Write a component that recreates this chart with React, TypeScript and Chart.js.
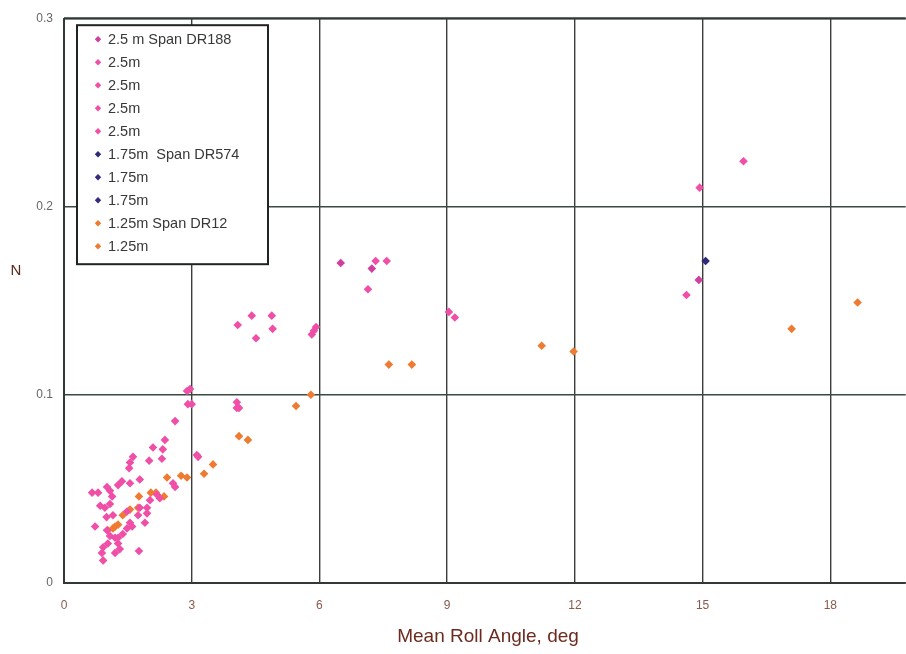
import React, { useEffect, useRef } from "react";
import { Chart, registerables } from "chart.js";

Chart.register(...registerables);

const xTickValues = [0, 3, 6, 9, 12, 15, 18];
const yTickValues = [0, 0.1, 0.2, 0.3];

const seriesLabels = [
  "2.5 m Span DR188",
  "2.5m",
  "2.5m",
  "2.5m",
  "2.5m",
  "1.75m  Span DR574",
  "1.75m",
  "1.75m",
  "1.25m Span DR12",
  "1.25m",
];

const seriesColors = [
  "#cf3f9f",
  "#ef4fa7",
  "#ef4fa7",
  "#ef4fa7",
  "#ef4fa7",
  "#2e2a7a",
  "#352a7c",
  "#352a7c",
  "#ee7b31",
  "#ee7b31",
];

const pinkDR188: [number, number][] = [
  [6.5, 0.17], [7.23, 0.167], [14.91, 0.161],
];
const pink2: [number, number][] = [
  [14.93, 0.21], [15.96, 0.224], [14.62, 0.153], [7.32, 0.171], [7.58, 0.171],
  [7.14, 0.156], [9.04, 0.144], [9.18, 0.141],
];
const pink3: [number, number][] = [
  [4.08, 0.137], [4.41, 0.142], [4.88, 0.142], [4.9, 0.135], [4.51, 0.13],
  [5.82, 0.132], [5.92, 0.136], [5.87, 0.134], [4.06, 0.096], [4.06, 0.093], [4.11, 0.093],
];
const pink4: [number, number][] = [
  [2.89, 0.102], [2.96, 0.103], [2.91, 0.095], [3.0, 0.095], [2.61, 0.086],
  [3.12, 0.068], [3.15, 0.067], [2.37, 0.076], [2.09, 0.072], [2.32, 0.071],
  [2.0, 0.065], [2.3, 0.066], [1.62, 0.067], [1.55, 0.064], [1.53, 0.061],
  [1.78, 0.055], [1.36, 0.054], [1.55, 0.053], [1.27, 0.052], [1.01, 0.051],
  [1.08, 0.049], [0.66, 0.048], [0.8, 0.048], [2.56, 0.053], [2.61, 0.051],
];
const pink5: [number, number][] = [
  [1.13, 0.046], [0.85, 0.041], [0.96, 0.04], [1.08, 0.042], [1.15, 0.036],
  [1.0, 0.035], [0.73, 0.03], [1.48, 0.038], [1.74, 0.036], [1.95, 0.04],
  [1.95, 0.037], [1.9, 0.032], [2.25, 0.045], [2.18, 0.047], [2.02, 0.044],
  [1.78, 0.04], [1.01, 0.028], [1.08, 0.025], [1.2, 0.024], [1.03, 0.021],
  [0.92, 0.019], [0.89, 0.016], [0.92, 0.012], [1.31, 0.018], [1.27, 0.024],
  [1.48, 0.029], [1.38, 0.026], [1.55, 0.032], [1.76, 0.017], [1.27, 0.021],
  [1.2, 0.016], [1.6, 0.03],
];
const navyDR574: [number, number][] = [[15.07, 0.171]];
const navy2: [number, number][] = [];
const navy3: [number, number][] = [];
const orangeDR12: [number, number][] = [
  [4.11, 0.078], [4.32, 0.076], [5.45, 0.094], [5.8, 0.1], [7.63, 0.116],
  [8.17, 0.116], [11.22, 0.126], [11.97, 0.123], [17.09, 0.135], [18.64, 0.149],
];
const orange2: [number, number][] = [
  [1.03, 0.028], [1.2, 0.03], [1.15, 0.029], [1.27, 0.031], [1.38, 0.036],
  [1.55, 0.039], [1.74, 0.04], [1.76, 0.046], [2.04, 0.048], [2.16, 0.048],
  [2.35, 0.046], [2.42, 0.056], [2.75, 0.057], [2.89, 0.056], [3.29, 0.058], [3.5, 0.063],
];

const seriesData = [
  pinkDR188, pink2, pink3, pink4, pink5, navyDR574, navy2, navy3, orangeDR12, orange2,
];

const xTitle = "Mean Roll Angle, deg";
const yTitle = "N";

const overlayPlugin = {
  id: "overlay",
  afterDraw(chart: any) {
    const ctx: CanvasRenderingContext2D = chart.ctx;
    const { left, top, bottom, right } = chart.chartArea;
    ctx.save();
    // axis lines
    ctx.strokeStyle = "#2f3a34";
    ctx.lineWidth = 2;
    ctx.beginPath();
    ctx.moveTo(left, top);
    ctx.lineTo(left, bottom);
    ctx.lineTo(right, bottom);
    ctx.stroke();
    ctx.beginPath();
    ctx.moveTo(left, top);
    ctx.lineTo(right, top);
    ctx.stroke();

    // legend box
    const bx = left + 13;
    const by = top + 7;
    const bw = 191;
    const bh = 239;
    ctx.fillStyle = "#ffffff";
    ctx.fillRect(bx, by, bw, bh);
    ctx.strokeStyle = "#1e2420";
    ctx.lineWidth = 2;
    ctx.strokeRect(bx, by, bw, bh);
    ctx.font = "14.5px 'Liberation Sans', Arial, sans-serif";
    ctx.textBaseline = "middle";
    ctx.textAlign = "left";
    chart.data.datasets.forEach((ds: any, i: number) => {
      const cy = by + 14 + 23 * i;
      const cx = bx + 21;
      const r = 3.2;
      ctx.fillStyle = ds.backgroundColor;
      ctx.beginPath();
      ctx.moveTo(cx, cy - r);
      ctx.lineTo(cx + r, cy);
      ctx.lineTo(cx, cy + r);
      ctx.lineTo(cx - r, cy);
      ctx.closePath();
      ctx.fill();
      ctx.fillStyle = "#383838";
      ctx.fillText(ds.label, cx + 10, cy + 1);
    });

    // y title
    ctx.fillStyle = "#5a2a1c";
    ctx.font = "15px 'Liberation Sans', Arial, sans-serif";
    ctx.textAlign = "center";
    ctx.fillText(yTitle, 16, 271);

    // x title
    ctx.fillStyle = "#6b2b1f";
    ctx.font = "19px 'Liberation Sans', Arial, sans-serif";
    ctx.fillText(xTitle, 488, 637);
    ctx.restore();
  },
};

export default function App() {
  const ref = useRef<HTMLCanvasElement | null>(null);
  useEffect(() => {
    if (!ref.current) return;
    const chart = new Chart(ref.current, {
      type: "scatter",
      data: {
        datasets: seriesData.map((pts, i) => ({
          label: seriesLabels[i],
          data: pts.map(([x, y]) => ({ x, y })),
          backgroundColor: seriesColors[i],
          borderColor: seriesColors[i],
          borderWidth: 0,
          pointStyle: "rectRot",
          pointRadius: 4.3,
          pointHoverRadius: 4.3,
        })),
      },
      options: {
        animation: false,
        responsive: false,
        layout: { padding: { top: 16, left: 0, right: 0, bottom: 0 } },
        plugins: {
          legend: { display: false },
          tooltip: { enabled: false },
        },
        scales: {
          x: {
            type: "linear",
            min: 0,
            max: 19.77,
            afterBuildTicks: (axis: any) => {
              axis.ticks = xTickValues.map((v) => ({ value: v }));
            },
            afterFit: (axis: any) => {
              axis.height = 71;
            },
            grid: { color: "#3c3c3c", lineWidth: 1.4, drawTicks: false },
            border: { display: false },
            ticks: {
              padding: 15,
              color: "#8a5a4c",
              font: { size: 12, family: "'Liberation Sans', Arial, sans-serif" },
              callback: (v: any) => String(v),
            },
          },
          y: {
            type: "linear",
            min: 0,
            max: 0.3,
            afterBuildTicks: (axis: any) => {
              axis.ticks = yTickValues.map((v) => ({ value: v }));
            },
            afterFit: (axis: any) => {
              axis.width = 64;
            },
            grid: { color: "#3a4a42", lineWidth: 1.4, drawTicks: false },
            border: { display: false },
            ticks: {
              padding: 11,
              color: "#666666",
              font: { size: 12, family: "'Liberation Sans', Arial, sans-serif" },
              callback: (v: any) => (v === 0 ? "0" : Number(v).toFixed(1)),
            },
          },
        },
      },
      plugins: [overlayPlugin],
    } as any);
    return () => chart.destroy();
  }, []);
  return (
    <div style={{ position: "fixed", left: 0, top: 0, width: 906, height: 654, overflow: "hidden", background: "#fff" }}>
      <canvas ref={ref} width={910} height={654} style={{ width: 910, height: 654, display: "block" }} />
    </div>
  );
}
